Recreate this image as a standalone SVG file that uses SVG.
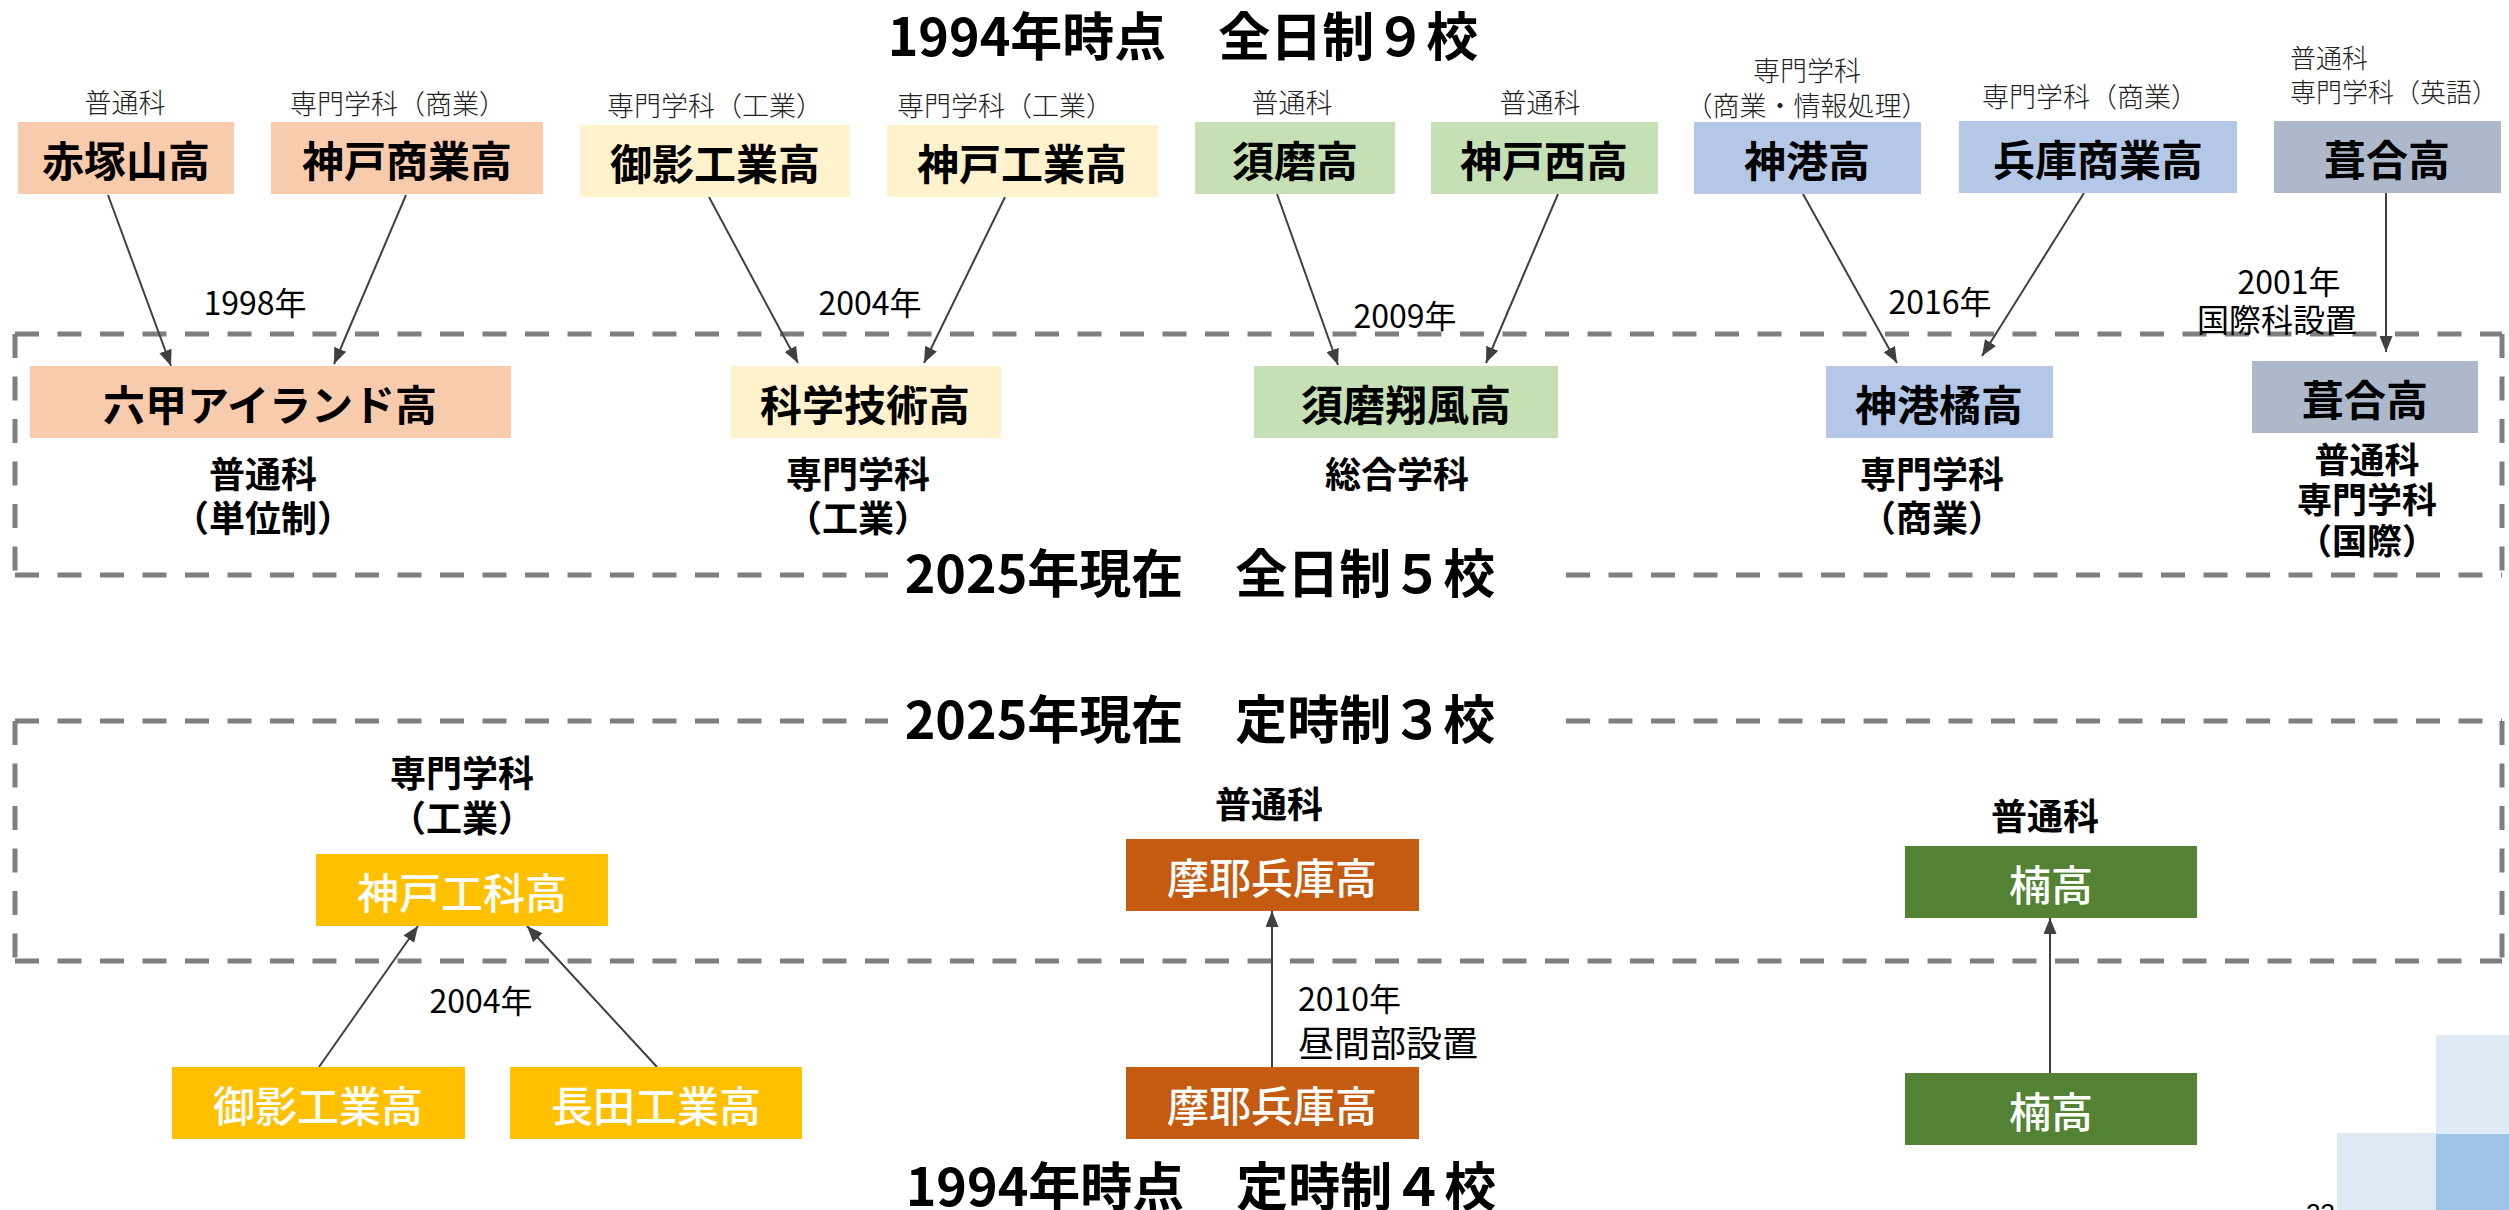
<svg xmlns="http://www.w3.org/2000/svg" width="2509" height="1210" viewBox="0 0 2509 1210">
<style>
text{font-family:"Noto Sans CJK JP","Noto Sans",sans-serif;fill:#000}
.title{font-size:52px;font-weight:700;text-anchor:middle;dominant-baseline:central}
.bt{font-size:42px;font-weight:700;text-anchor:middle;dominant-baseline:central}
.wt{font-size:42px;font-weight:500;text-anchor:middle;dominant-baseline:central;fill:#fff}
.sm{font-size:27px;font-weight:300;text-anchor:middle;dominant-baseline:central;fill:#222}
.yr{font-size:32px;font-weight:400;text-anchor:middle;dominant-baseline:central}
.lb{font-size:36px;font-weight:700;text-anchor:middle;dominant-baseline:central}
.dash{stroke:#7f7f7f;stroke-width:5;stroke-dasharray:24 18.5;fill:none}
.ar{stroke:#404040;stroke-width:2;fill:none;marker-end:url(#ah)}
.c1{fill:#f8cbad}.c2{fill:#fff2cc}.c3{fill:#c5e0b4}.c4{fill:#b4c7e7}.c5{fill:#adb9ca}
.c6{fill:#ffc000}.c7{fill:#c55a11}.c8{fill:#548235}
</style>
<defs>
<marker id="ah" markerUnits="userSpaceOnUse" markerWidth="16" markerHeight="13" refX="16" refY="6.5" orient="auto">
<path d="M0,0 L16,6.5 L0,13 z" fill="#404040"/>
</marker>
</defs>
<rect width="2509" height="1210" fill="#fff"/>

<g id="frames">
<line class="dash" x1="15" y1="334" x2="2502" y2="334"/>
<line class="dash" x1="2502" y1="334" x2="2502" y2="575"/>
<line class="dash" x1="15" y1="575" x2="888" y2="575"/>
<line class="dash" x1="1566" y1="575" x2="2502" y2="575"/>
<line class="dash" x1="15" y1="334" x2="15" y2="575"/>
<line class="dash" x1="15" y1="721" x2="888" y2="721"/>
<line class="dash" x1="1566" y1="721" x2="2502" y2="721"/>
<line class="dash" x1="2502" y1="721" x2="2502" y2="961"/>
<line class="dash" x1="15" y1="961" x2="2502" y2="961"/>
<line class="dash" x1="15" y1="721" x2="15" y2="961"/>
</g>

<g id="titles">
<text class="title" x="1183" y="33">1994年時点　全日制９校</text>
<text class="title" x="1200" y="570">2025年現在　全日制５校</text>
<text class="title" x="1200" y="716">2025年現在　定時制３校</text>
<text class="title" x="1201" y="1183">1994年時点　定時制４校</text>
</g>

<g id="connectors">
<line class="ar" x1="108" y1="195" x2="171" y2="366"/>
<line class="ar" x1="406" y1="195" x2="334" y2="364"/>
<line class="ar" x1="709" y1="197" x2="798" y2="363"/>
<line class="ar" x1="1005" y1="197" x2="924" y2="363"/>
<line class="ar" x1="1277" y1="194" x2="1338" y2="365"/>
<line class="ar" x1="1558" y1="194" x2="1486" y2="363"/>
<line class="ar" x1="1803" y1="194" x2="1897" y2="363"/>
<line class="ar" x1="2084" y1="193" x2="1982" y2="356"/>
<line class="ar" x1="2386" y1="187" x2="2386" y2="352"/>
<line class="ar" x1="319" y1="1067" x2="418" y2="926"/>
<line class="ar" x1="657" y1="1067" x2="527" y2="926"/>
<line class="ar" x1="1272" y1="1067" x2="1272" y2="911"/>
<line class="ar" x1="2050" y1="1073" x2="2050" y2="918"/>
</g>

<g id="edge-labels">
<text class="yr" x="255" y="301">1998年</text>
<text class="yr" x="870" y="301">2004年</text>
<text class="yr" x="1405" y="314">2009年</text>
<text class="yr" x="1940" y="300">2016年</text>
<text class="yr" x="2289" y="280">2001年</text>
<text class="yr" x="2277" y="318">国際科設置</text>
<text class="yr" x="481" y="999">2004年</text>
<text class="yr" x="1298" y="997" style="text-anchor:start">2010年</text>
<text class="yr" x="1298" y="1041" style="text-anchor:start;font-size:36px">昼間部設置</text>
</g>

<g id="akatsukayama">
<text class="sm" x="125" y="101">普通科</text>
<rect class="c1" x="18" y="122" width="216" height="72"/>
<text class="bt" x="126" y="158">赤塚山高</text>
</g>
<g id="kobe-shogyo">
<text class="sm" x="398" y="102">専門学科（商業）</text>
<rect class="c1" x="271" y="122" width="272" height="72"/>
<text class="bt" x="407" y="158">神戸商業高</text>
</g>
<g id="mikage-kogyo">
<text class="sm" x="715" y="104">専門学科（工業）</text>
<rect class="c2" x="580" y="125" width="270" height="72"/>
<text class="bt" x="715" y="161">御影工業高</text>
</g>
<g id="kobe-kogyo">
<text class="sm" x="1005" y="104">専門学科（工業）</text>
<rect class="c2" x="887" y="125" width="271" height="72"/>
<text class="bt" x="1022" y="161">神戸工業高</text>
</g>
<g id="suma">
<text class="sm" x="1292" y="101">普通科</text>
<rect class="c3" x="1195" y="122" width="200" height="72"/>
<text class="bt" x="1295" y="158">須磨高</text>
</g>
<g id="kobe-nishi">
<text class="sm" x="1540" y="101">普通科</text>
<rect class="c3" x="1431" y="122" width="227" height="72"/>
<text class="bt" x="1544" y="158">神戸西高</text>
</g>
<g id="shinko">
<text class="sm" x="1807" y="69">専門学科</text>
<text class="sm" x="1807" y="104">（商業・情報処理）</text>
<rect class="c4" x="1694" y="122" width="227" height="72"/>
<text class="bt" x="1807" y="158">神港高</text>
</g>
<g id="hyogo-shogyo">
<text class="sm" x="2090" y="95">専門学科（商業）</text>
<rect class="c4" x="1959" y="121" width="278" height="72"/>
<text class="bt" x="2098" y="157">兵庫商業高</text>
</g>
<g id="fukiai-1994">
<text class="sm" x="2290" y="56" style="text-anchor:start;font-size:26px">普通科</text>
<text class="sm" x="2290" y="90" style="text-anchor:start;font-size:26px">専門学科（英語）</text>
<rect class="c5" x="2274" y="121" width="227" height="72"/>
<text class="bt" x="2387" y="157">葺合高</text>
</g>

<g id="rokko-island">
<rect class="c1" x="30" y="366" width="481" height="72"/>
<text class="bt" x="270" y="402">六甲アイランド高</text>
<text class="lb" x="263" y="472">普通科</text>
<text class="lb" x="263" y="516">（単位制）</text>
</g>
<g id="kagaku-gijutsu">
<rect class="c2" x="730" y="366" width="271" height="72"/>
<text class="bt" x="865" y="402">科学技術高</text>
<text class="lb" x="858" y="472">専門学科</text>
<text class="lb" x="858" y="516">（工業）</text>
</g>
<g id="suma-shofu">
<rect class="c3" x="1254" y="366" width="304" height="72"/>
<text class="bt" x="1406" y="402">須磨翔風高</text>
<text class="lb" x="1397" y="472">総合学科</text>
</g>
<g id="shinko-tachibana">
<rect class="c4" x="1826" y="366" width="227" height="72"/>
<text class="bt" x="1939" y="402">神港橘高</text>
<text class="lb" x="1932" y="472">専門学科</text>
<text class="lb" x="1932" y="516">（商業）</text>
</g>
<g id="fukiai-2025">
<rect class="c5" x="2252" y="361" width="226" height="72"/>
<text class="bt" x="2365" y="397">葺合高</text>
<text class="lb" x="2367" y="457" style="font-size:35px">普通科</text>
<text class="lb" x="2367" y="497" style="font-size:35px">専門学科</text>
<text class="lb" x="2367" y="538" style="font-size:35px">（国際）</text>
</g>

<g id="kobe-koka">
<text class="lb" x="462" y="771">専門学科</text>
<text class="lb" x="462" y="816">（工業）</text>
<rect class="c6" x="316" y="854" width="292" height="72"/>
<text class="wt" x="462" y="890">神戸工科高</text>
</g>
<g id="mikage-kogyo-teiji">
<rect class="c6" x="172" y="1067" width="293" height="72"/>
<text class="wt" x="318" y="1103">御影工業高</text>
</g>
<g id="nagata-kogyo">
<rect class="c6" x="510" y="1067" width="292" height="72"/>
<text class="wt" x="656" y="1103">長田工業高</text>
</g>
<g id="maya-hyogo-2025">
<text class="lb" x="1269" y="802">普通科</text>
<rect class="c7" x="1126" y="839" width="293" height="72"/>
<text class="wt" x="1272" y="875">摩耶兵庫高</text>
</g>
<g id="maya-hyogo-1994">
<rect class="c7" x="1126" y="1067" width="293" height="72"/>
<text class="wt" x="1272" y="1103">摩耶兵庫高</text>
</g>
<g id="kusunoki-2025">
<text class="lb" x="2045" y="814">普通科</text>
<rect class="c8" x="1905" y="846" width="292" height="72"/>
<text class="wt" x="2051" y="882">楠高</text>
</g>
<g id="kusunoki-1994">
<rect class="c8" x="1905" y="1073" width="292" height="72"/>
<text class="wt" x="2051" y="1109">楠高</text>
</g>

<g id="decoration">
<rect x="2436" y="1035" width="73" height="99" fill="#deebf7"/>
<rect x="2337" y="1133" width="99" height="77" fill="#deebf7"/>
<rect x="2436" y="1134" width="73" height="76" fill="#9dc3e6"/>
<text x="2306" y="1222" style="font-size:26px;font-family:'Liberation Sans',sans-serif">23</text>
</g>
</svg>
